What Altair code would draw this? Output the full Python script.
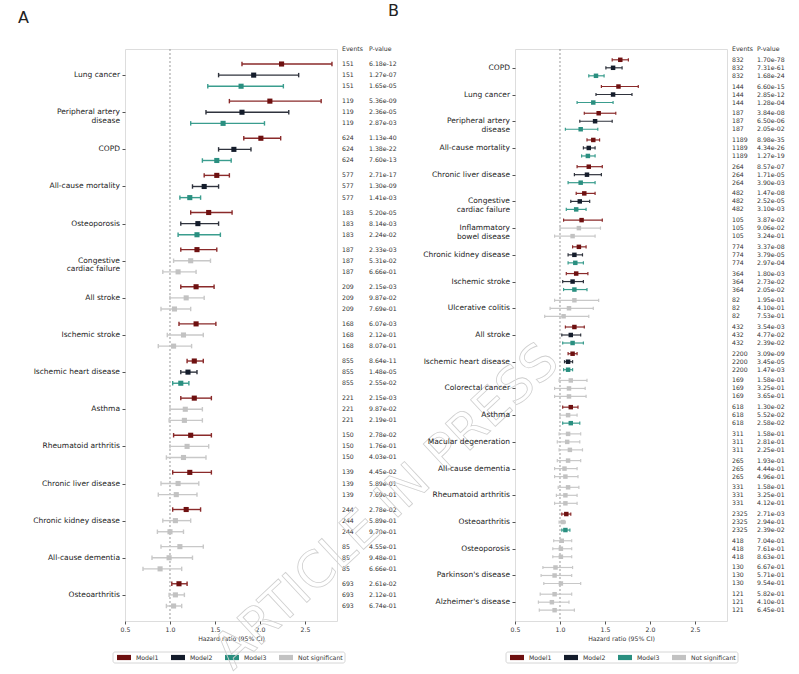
import altair as alt
import pandas as pd

FONT = "DejaVu Sans"
MODELS = ["Model1", "Model2", "Model3"]
LEGEND_ORDER = ["Model1", "Model2", "Model3", "Not significant"]
POINT_COLORS = ["#6e1010", "#141c2b", "#2a8f80", "#c2c2c2"]
LINE_COLORS = ["#8a2a2a", "#2f333d", "#3a9d8e", "#c8c8c8"]
WATERMARK = "ARTICLE IN PRESS"

# ---- Panel A -------------------------------------------------------------
A_DISEASES = ["Lung cancer", "Peripheral artery\ndisease", "COPD", "All-cause mortality",
              "Osteoporosis", "Congestive\ncardiac failure", "All stroke", "Ischemic stroke",
              "Ischemic heart disease", "Asthma", "Rheumatoid arthritis",
              "Chronic liver disease", "Chronic kidney disease", "All-cause dementia",
              "Osteoarthritis"]
A_EVENTS = [151, 119, 624, 577, 183, 187, 209, 168, 855, 221, 150, 139, 244, 85, 693]
A_HR = [[2.24, 1.93, 1.79], [2.11, 1.80, 1.59], [2.01, 1.71, 1.52], [1.52, 1.38, 1.22],
        [1.43, 1.31, 1.30], [1.30, 1.23, 1.09], [1.29, 1.18, 1.05], [1.29, 1.15, 1.04],
        [1.27, 1.20, 1.12], [1.27, 1.17, 1.16], [1.23, 1.19, 1.15], [1.22, 1.09, 1.07],
        [1.18, 1.06, 1.00], [1.11, 0.99, 0.89], [1.10, 1.06, 1.04]]
A_LO = [[1.80, 1.54, 1.42], [1.66, 1.40, 1.23], [1.82, 1.54, 1.36], [1.38, 1.25, 1.11],
        [1.23, 1.12, 1.09], [1.12, 1.04, 0.92], [1.12, 1.00, 0.90], [1.10, 0.97, 0.87],
        [1.19, 1.12, 1.03], [1.12, 1.00, 0.99], [1.04, 1.00, 0.96], [1.03, 0.90, 0.87],
        [1.03, 0.92, 0.86], [0.90, 0.80, 0.70], [1.02, 0.99, 0.96]]
A_HI = [[2.80, 2.43, 2.26], [2.68, 2.32, 2.05], [2.23, 1.90, 1.68], [1.66, 1.54, 1.34],
        [1.69, 1.54, 1.56], [1.52, 1.45, 1.29], [1.49, 1.38, 1.23], [1.51, 1.37, 1.24],
        [1.37, 1.30, 1.21], [1.46, 1.36, 1.36], [1.46, 1.43, 1.40], [1.46, 1.32, 1.30],
        [1.34, 1.23, 1.15], [1.37, 1.25, 1.13], [1.19, 1.16, 1.13]]
A_P = [["6.18e-12", "1.27e-07", "1.65e-05"], ["5.36e-09", "2.36e-05", "2.87e-03"],
       ["1.13e-40", "1.38e-22", "7.60e-13"], ["2.71e-17", "1.30e-09", "1.41e-03"],
       ["5.20e-05", "8.14e-03", "2.24e-02"], ["2.33e-03", "5.31e-02", "6.66e-01"],
       ["2.15e-03", "9.87e-02", "7.69e-01"], ["6.07e-03", "2.12e-01", "8.07e-01"],
       ["8.64e-11", "1.48e-05", "2.55e-02"], ["2.15e-03", "9.87e-02", "2.19e-01"],
       ["2.78e-02", "1.76e-01", "4.03e-01"], ["4.45e-02", "5.89e-01", "7.69e-01"],
       ["2.78e-02", "5.89e-01", "9.70e-01"], ["4.55e-01", "9.48e-01", "6.66e-01"],
       ["2.61e-02", "2.12e-01", "6.74e-01"]]

# ---- Panel B -------------------------------------------------------------
B_DISEASES = ["COPD", "Lung cancer", "Peripheral artery\ndisease", "All-cause mortality",
              "Chronic liver disease", "Congestive\ncardiac failure", "Inflammatory\nbowel disease",
              "Chronic kidney disease", "Ischemic stroke", "Ulcerative colitis", "All stroke",
              "Ischemic heart disease", "Colorectal cancer", "Asthma", "Macular degeneration",
              "All-cause dementia", "Rheumatoid arthritis", "Osteoarthritis", "Osteoporosis",
              "Parkinson's disease", "Alzheimer's disease"]
B_EVENTS = [832, 144, 187, 1189, 264, 482, 105, 774, 364, 82, 432, 2200, 169, 618, 311,
            265, 331, 2325, 418, 130, 121]
B_HR = [[1.67, 1.59, 1.40], [1.65, 1.59, 1.37], [1.43, 1.39, 1.23], [1.37, 1.32, 1.31],
        [1.32, 1.30, 1.23], [1.27, 1.22, 1.18], [1.24, 1.21, 1.14], [1.21, 1.16, 1.17],
        [1.18, 1.14, 1.16], [1.16, 1.10, 1.04], [1.16, 1.12, 1.14], [1.14, 1.09, 1.09],
        [1.12, 1.10, 1.10], [1.12, 1.09, 1.12], [1.09, 1.08, 1.11], [1.09, 1.05, 1.06],
        [1.09, 1.06, 1.06], [1.07, 1.03, 1.06], [1.02, 1.01, 1.01], [0.95, 0.94, 1.01],
        [0.94, 0.91, 0.94]]
B_LO = [[1.58, 1.51, 1.32], [1.46, 1.40, 1.19], [1.27, 1.22, 1.06], [1.30, 1.26, 1.24],
        [1.19, 1.16, 1.09], [1.18, 1.12, 1.07], [1.04, 1.00, 0.94], [1.14, 1.09, 1.09],
        [1.07, 1.03, 1.04], [0.94, 0.89, 0.83], [1.06, 1.02, 1.03], [1.09, 1.05, 1.04],
        [0.99, 0.94, 0.94], [1.03, 1.00, 1.03], [0.99, 0.97, 0.99], [0.97, 0.94, 0.94],
        [0.98, 0.96, 0.94], [1.02, 0.99, 1.02], [0.93, 0.92, 0.92], [0.81, 0.79, 0.82],
        [0.78, 0.76, 0.77]]
B_HI = [[1.76, 1.69, 1.49], [1.87, 1.80, 1.59], [1.62, 1.58, 1.42], [1.44, 1.39, 1.39],
        [1.47, 1.46, 1.39], [1.39, 1.33, 1.29], [1.47, 1.45, 1.39], [1.29, 1.25, 1.26],
        [1.31, 1.26, 1.30], [1.43, 1.37, 1.32], [1.27, 1.23, 1.26], [1.19, 1.14, 1.14],
        [1.30, 1.28, 1.29], [1.20, 1.19, 1.22], [1.23, 1.22, 1.25], [1.23, 1.19, 1.20],
        [1.21, 1.19, 1.19], [1.12, 1.06, 1.11], [1.13, 1.13, 1.13], [1.14, 1.13, 1.23],
        [1.13, 1.10, 1.16]]
B_P = [["1.70e-78", "7.31e-61", "1.68e-24"], ["6.60e-15", "2.85e-12", "1.28e-04"],
       ["3.84e-08", "6.50e-06", "2.05e-02"], ["8.98e-35", "4.34e-26", "1.27e-19"],
       ["8.57e-07", "1.71e-05", "3.90e-03"], ["1.47e-08", "2.52e-05", "3.10e-03"],
       ["3.87e-02", "9.06e-02", "3.24e-01"], ["3.37e-08", "3.79e-05", "2.97e-04"],
       ["1.80e-03", "2.73e-02", "2.05e-02"], ["1.95e-01", "4.10e-01", "7.53e-01"],
       ["3.54e-03", "4.77e-02", "2.39e-02"], ["3.09e-09", "3.45e-05", "1.47e-03"],
       ["1.58e-01", "3.25e-01", "3.65e-01"], ["1.30e-02", "5.52e-02", "2.58e-02"],
       ["1.58e-01", "2.81e-01", "2.25e-01"], ["1.93e-01", "4.44e-01", "4.96e-01"],
       ["1.58e-01", "3.25e-01", "4.12e-01"], ["2.71e-03", "2.94e-01", "2.39e-02"],
       ["7.04e-01", "7.61e-01", "8.63e-01"], ["6.67e-01", "5.71e-01", "9.54e-01"],
       ["5.82e-01", "4.10e-01", "6.45e-01"]]

X_TICKS = [0.5, 1.0, 1.5, 2.0, 2.5]
X_DOMAIN = [0.5, 2.856]
GROUP_STEP = 3.34   # rows per disease block (3 models + gap)
EDGE_ROWS = 1.35    # blank rows above the first and below the last estimate
W, H = 212, 572

X_AXIS = alt.Axis(
    values=X_TICKS, format=".1f", title="Hazard ratio (95% CI)",
    labelFontSize=6.2, titleFontSize=6.2, titleFontWeight="normal",
    labelFont=FONT, titleFont=FONT, labelColor="#333", titleColor="#333",
    tickSize=3, tickColor="#555", domain=False, grid=False,
    labelFlush=False, labelPadding=2, titlePadding=3)

TXT = dict(align="left", baseline="middle", fontSize=6.2, font=FONT, color="#333")
ONE = pd.DataFrame({"k": [0]})


def legend_layers(fill_scale, left):
    """Boxed horizontal key drawn under a panel, starting at pixel `left`."""
    top, bottom = 603, 614
    mid = (top + bottom) / 2
    box = alt.Chart(ONE).mark_rect(
        fill="white", stroke="#cccccc", strokeWidth=0.8, cornerRadius=2
    ).encode(x=alt.value(left), x2=alt.value(left + 232),
             y=alt.value(top), y2=alt.value(bottom))
    out = [box]
    for i, cat in enumerate(LEGEND_ORDER):
        sx = left + 4 + 54 * i
        item = alt.Chart(pd.DataFrame({"cat": [cat]}))
        out.append(item.mark_rect().encode(
            x=alt.value(sx), x2=alt.value(sx + 14),
            y=alt.value(mid - 2.6), y2=alt.value(mid + 2.6),
            fill=alt.Fill("cat:N", scale=fill_scale, legend=None)))
        out.append(item.mark_text(**TXT).encode(
            x=alt.value(sx + 19), y=alt.value(mid), text="cat:N"))
    return out


def forest(letter, diseases, events, hr, lo, hi, pvals, letter_pos, p_offset,
           legend_left, point_size, line_w, watermark=False):
    rows = []
    for g in range(len(diseases)):
        for m in range(3):
            p = pvals[g][m]
            rows.append({
                "pos": g * GROUP_STEP + m,
                "hr": hr[g][m], "lo": lo[g][m], "hi": hi[g][m],
                "events": str(events[g]), "p": p,
                "cat": MODELS[m] if float(p) < 0.05 else "Not significant",
            })
    df = pd.DataFrame(rows)
    n = len(diseases)
    centers = [g * GROUP_STEP + 1 for g in range(n)]
    labels = pd.DataFrame({"label": diseases, "pos": centers})

    xs = alt.Scale(domain=X_DOMAIN, nice=False, zero=False)
    ys = alt.Scale(domain=[-EDGE_ROWS, (n - 1) * GROUP_STEP + 2 + EDGE_ROWS],
                   reverse=True, nice=False, zero=False)
    y_axis = alt.Axis(values=centers, labels=False, ticks=True, tickSize=3,
                      tickColor="#555", domain=False, grid=False, title=None)
    stroke_scale = alt.Scale(domain=LEGEND_ORDER, range=LINE_COLORS)
    fill_scale = alt.Scale(domain=LEGEND_ORDER, range=POINT_COLORS)

    def X(field):
        return alt.X(field, scale=xs, axis=X_AXIS)

    def Y(field):
        return alt.Y(field, scale=ys, axis=y_axis)

    base = alt.Chart(df)

    ref = alt.Chart(pd.DataFrame({"ref": [1.0]})).mark_rule(
        color="#9a9a9a", strokeDash=[2, 2], strokeWidth=1
    ).encode(x=X("ref:Q"))

    bars = base.mark_rule(strokeWidth=line_w).encode(
        x=X("lo:Q"), x2="hi:Q", y=Y("pos:Q"),
        stroke=alt.Stroke("cat:N", scale=stroke_scale, legend=None),
    )

    caps = base.transform_fold(["lo", "hi"], as_=["end", "xv"]).transform_calculate(
        c1="datum.pos - 0.2", c2="datum.pos + 0.2"
    ).mark_rule(strokeWidth=line_w).encode(
        x=X("xv:Q"), y=Y("c1:Q"), y2="c2:Q",
        stroke=alt.Stroke("cat:N", scale=stroke_scale, legend=None),
    )

    points = base.mark_square(size=point_size, opacity=1).encode(
        x=X("hr:Q"), y=Y("pos:Q"),
        fill=alt.Fill("cat:N", scale=fill_scale, legend=None),
    )

    ev = base.mark_text(**TXT).encode(x=alt.value(W + 5), y=Y("pos:Q"), text="events:N")
    pv = base.mark_text(**TXT).encode(x=alt.value(W + p_offset), y=Y("pos:Q"), text="p:N")

    head_ev = alt.Chart(pd.DataFrame({"t": ["Events"]})).mark_text(**TXT).encode(
        x=alt.value(W + 5), y=alt.value(0), text="t:N")
    head_pv = alt.Chart(pd.DataFrame({"t": ["P-value"]})).mark_text(**TXT).encode(
        x=alt.value(W + p_offset), y=alt.value(0), text="t:N")

    names = alt.Chart(labels).mark_text(
        align="right", baseline="middle", fontSize=7.5, font=FONT, color="#222",
        lineBreak="\n", lineHeight=8.6
    ).encode(x=alt.value(-5), y=Y("pos:Q"), text="label:N")

    tag = alt.Chart(pd.DataFrame({"t": [letter]})).mark_text(
        align="left", baseline="top", fontSize=16, font=FONT, color="#222"
    ).encode(x=alt.value(letter_pos[0]), y=alt.value(letter_pos[1]), text="t:N")

    layers = [ref, bars, caps, points, ev, pv, head_ev, head_pv, names, tag]
    layers += legend_layers(fill_scale, legend_left)
    if watermark:
        wm = alt.Chart(pd.DataFrame({"t": [WATERMARK]})).mark_text(
            angle=317, fontSize=50, font=FONT, align="center", baseline="middle",
            fill="white", fillOpacity=0, stroke="#cfcfcf", strokeWidth=0.8
        ).encode(x=alt.value(262), y=alt.value(458), text="t:N")
        layers.append(wm)
    return alt.layer(*layers).properties(width=W, height=H)


panel_a = forest("A", A_DISEASES, A_EVENTS, A_HR, A_LO, A_HI, A_P,
                 letter_pos=(-107, -39), p_offset=32, legend_left=-12,
                 point_size=26, line_w=1.4, watermark=True)
panel_b = forest("B", B_DISEASES, B_EVENTS, B_HR, B_LO, B_HI, B_P,
                 letter_pos=(-127, -46), p_offset=30, legend_left=-9,
                 point_size=20, line_w=1.2)

chart = alt.hconcat(panel_a, panel_b, spacing=178, bounds="flush").resolve_scale(
    x="independent", y="independent", fill="independent", stroke="independent"
).properties(
    padding={"left": 17, "top": 2, "right": 4, "bottom": 4}
).configure_view(
    stroke="#555555", strokeWidth=1.2
).configure(background="white")

chart.save("out.html", embed_options={"renderer": "svg", "actions": False})
